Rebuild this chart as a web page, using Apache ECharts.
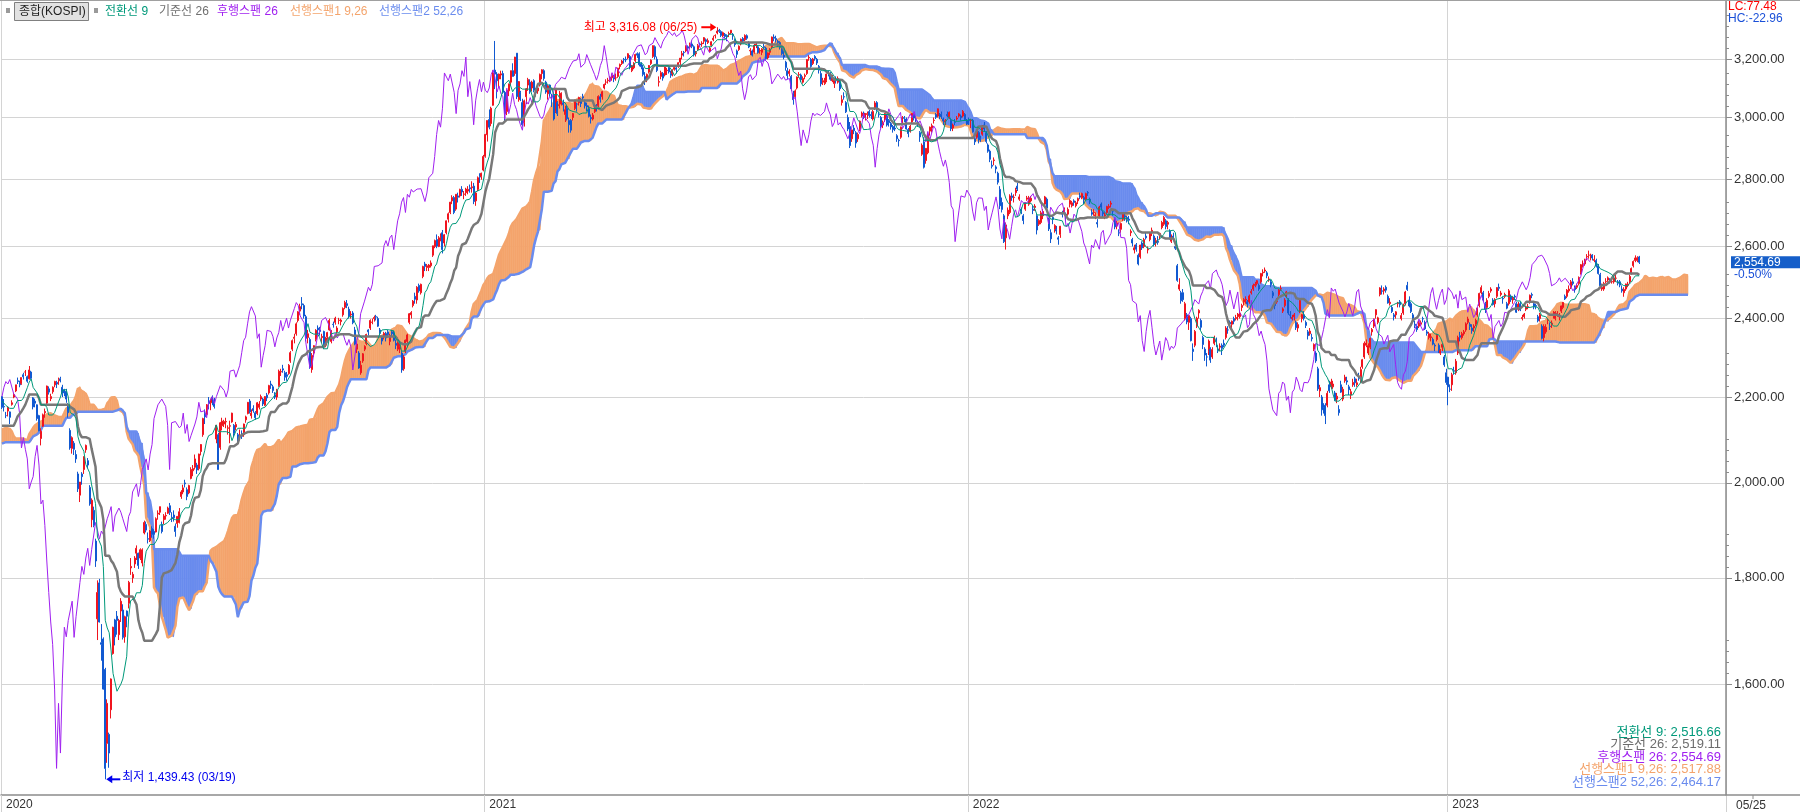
<!DOCTYPE html>
<html><head><meta charset="utf-8">
<script src="https://cdn.jsdelivr.net/npm/echarts@6/dist/echarts.min.js"></script>
<style>html,body{margin:0;padding:0;background:#fff;}#c{width:1800px;height:812px;}</style>
</head><body><div id="c"></div>
<script>
// ---- DATA: daily KOSPI candles [open, high, low, close] ----
// warm-up (2019-09-02 .. 2019-12-30) used only for indicator windows
const k2019 = [
[1965,1973,1960,1969],[1968,1972,1957,1965],[1970,1990,1967,1988],[2000,2006,1996,2004],[2007,2016,2004,2010],[2012,2022,2008,2019],[2024,2035,2020,2032],[2040,2052,2036,2049],[2055,2066,2048,2062],[2058,2066,2054,2062],[2066,2073,2060,2070],[2075,2083,2070,2080],[2082,2094,2079,2091],[2093,2098,2085,2091],[2096,2103,2090,2101],[2090,2092,2070,2074],[2078,2082,2063,2068],[2060,2062,2046,2050],[2055,2066,2050,2063],
[2068,2075,2058,2063],[2052,2055,2029,2031],[2025,2030,2015,2021],[2027,2032,2016,2020],[2024,2049,2022,2047],[2034,2036,2015,2020],[2035,2047,2032,2044],[2056,2070,2053,2067],[2064,2072,2059,2068],[2075,2084,2071,2081],[2080,2085,2072,2077],[2072,2076,2058,2061],[2063,2072,2060,2069],[2073,2088,2070,2086],[2080,2086,2075,2082],[2085,2092,2080,2087],[2084,2088,2078,2085],[2090,2096,2086,2093],[2089,2091,2077,2080],[2080,2086,2074,2080],[2082,2088,2076,2083],
[2086,2102,2084,2100],[2113,2131,2110,2130],[2136,2144,2130,2142],[2143,2148,2137,2144],[2140,2148,2136,2144],[2140,2146,2132,2137],[2136,2138,2120,2124],[2128,2142,2125,2140],[2135,2138,2118,2122],[2128,2141,2124,2139],[2148,2164,2145,2162],[2163,2170,2155,2160],[2160,2164,2148,2152],[2145,2148,2123,2126],[2118,2120,2090,2096],[2100,2110,2093,2101],[2112,2126,2108,2123],[2124,2130,2116,2121],[2120,2126,2114,2122],[2125,2130,2118,2121],[2115,2118,2086,2087],
[2087,2096,2080,2092],[2084,2088,2064,2068],[2055,2070,2052,2068],[2075,2080,2058,2060],[2068,2084,2065,2081],[2088,2094,2082,2090],[2090,2100,2086,2098],[2100,2108,2096,2105],[2110,2112,2100,2106],[2140,2170,2138,2170],[2165,2175,2160,2168],[2175,2197,2172,2195],[2200,2206,2190,2196],[2198,2204,2190,2196],[2200,2208,2196,2204],[2206,2210,2198,2203],[2200,2203,2188,2190],[2192,2200,2186,2197],[2202,2210,2198,2205],[2204,2206,2192,2198]
];
const k2020 = [
[2201,2202,2171,2175],[2177,2195,2165,2176],[2155,2164,2149,2155],[2166,2177,2153,2175],[2164,2165,2135,2151],[2182,2192,2179,2186],[2200,2210,2197,2206],[2215,2230,2212,2230],[2240,2248,2232,2238],[2236,2240,2224,2230],[2233,2248,2230,2248],[2255,2260,2243,2250],[2262,2267,2252,2262],[2250,2253,2235,2239],[2245,2277,2243,2267],[2262,2265,2243,2246],[2198,2200,2170,2176],[2190,2196,2175,2185],[2181,2182,2143,2148],[2155,2157,2118,2119],
[2101,2125,2085,2118],[2130,2160,2128,2157],[2162,2172,2150,2165],[2185,2228,2183,2227],[2220,2226,2206,2212],[2196,2208,2190,2201],[2213,2226,2208,2224],[2230,2240,2224,2238],[2236,2240,2222,2232],[2240,2248,2230,2243],[2245,2250,2236,2242],[2224,2230,2200,2208],[2218,2220,2202,2210],[2214,2220,2186,2195],[2180,2185,2150,2162],[2120,2125,2075,2079],[2078,2106,2066,2103],[2090,2095,2063,2076],[2064,2074,2045,2054],[2020,2025,1980,1987],
[1973,2002,1958,2002],[2020,2024,1996,2014],[2030,2060,2020,2059],[2075,2087,2068,2085],[2050,2056,2032,2040],[1990,1995,1950,1954],[1920,1966,1904,1962],[1940,1948,1904,1908],[1875,1880,1822,1834],[1720,1795,1680,1771],[1790,1798,1713,1714],[1675,1710,1642,1672],[1682,1685,1590,1591],[1626,1629,1439.43,1457],[1498,1573,1466,1566],[1513,1516,1458,1482],[1555,1610,1540,1609],[1655,1705,1653,1704],[1718,1720,1670,1686],[1725,1735,1690,1717],[1690,1720,1680,1717],[1735,1760,1714,1754],
[1737,1748,1681,1685],[1686,1726,1675,1724],[1735,1736,1704,1725],[1750,1794,1740,1791],[1820,1840,1806,1823],[1800,1812,1790,1807],[1828,1844,1820,1840],[1850,1866,1836,1860],[1850,1851,1818,1825],[1840,1860,1836,1857],[1830,1860,1823,1857],[1892,1918,1889,1914],[1910,1916,1893,1898],[1880,1893,1870,1879],[1876,1898,1873,1896],[1901,1906,1882,1889],[1895,1900,1880,1889],[1894,1925,1893,1922],[1932,1940,1920,1934],[1936,1948,1930,1948],
[1910,1916,1891,1895],[1920,1932,1910,1928],[1928,1936,1920,1929],[1934,1948,1932,1945],[1950,1956,1930,1936],[1925,1936,1915,1922],[1930,1940,1916,1924],[1906,1912,1884,1895],[1912,1928,1903,1927],[1914,1945,1912,1937],[1970,1984,1965,1980],[1980,1996,1975,1989],[2000,2007,1990,1998],[1985,1990,1962,1970],[1978,1996,1975,1994],[2010,2035,2008,2030],[2027,2040,2015,2032],[2035,2064,2030,2054],[2040,2045,2020,2029],
[2032,2066,2028,2065],[2071,2088,2062,2087],[2110,2150,2105,2148],[2160,2170,2135,2152],[2158,2183,2155,2181],[2190,2200,2170,2184],[2186,2196,2168,2195],[2200,2204,2180,2195],[2190,2198,2172,2177],[2100,2130,2090,2132],[2110,2114,2030,2030],[2080,2140,2075,2138],[2131,2150,2120,2142],[2135,2145,2128,2141],[2140,2150,2125,2141],[2125,2132,2110,2126],[2130,2143,2090,2131],[2140,2162,2138,2161],[2132,2135,2105,2113],[2128,2140,2120,2134],[2110,2114,2088,2094],[2105,2122,2098,2108],
[2110,2120,2100,2106],[2110,2136,2105,2135],[2145,2155,2138,2152],[2160,2188,2158,2187],[2190,2195,2160,2164],[2155,2170,2148,2161],[2172,2180,2162,2167],[2162,2166,2145,2150],[2160,2188,2156,2186],[2175,2190,2170,2183],[2195,2206,2190,2201],[2195,2198,2178,2183],[2180,2202,2178,2201],[2205,2210,2190,2198],[2210,2230,2206,2228],[2232,2240,2220,2229],[2225,2230,2210,2216],[2205,2212,2195,2200],[2200,2220,2193,2217],[2228,2268,2225,2264],[2262,2270,2252,2263],[2270,2280,2260,2267],[2260,2265,2240,2249],
[2255,2262,2240,2251],[2258,2282,2255,2279],[2290,2315,2285,2311],[2320,2345,2315,2342],[2348,2360,2335,2351],[2360,2390,2355,2386],[2395,2420,2390,2418],[2420,2440,2410,2432],[2440,2458,2425,2437],[2435,2440,2400,2407],[2405,2410,2340,2348],[2350,2370,2335,2360],[2345,2350,2270,2274],[2268,2310,2260,2304],[2310,2330,2300,2329],[2345,2372,2340,2369],[2375,2382,2358,2370],[2370,2378,2355,2366],[2350,2360,2335,2353],[2366,2368,2320,2326],
[2330,2352,2325,2349],[2352,2365,2345,2363],[2370,2400,2368,2395],[2340,2370,2335,2368],[2385,2392,2376,2384],[2390,2405,2384,2401],[2365,2380,2360,2375],[2395,2402,2385,2396],[2392,2400,2382,2396],[2410,2430,2405,2427],[2430,2448,2425,2443],[2440,2450,2428,2435],[2425,2432,2400,2407],[2410,2420,2400,2412],[2415,2420,2385,2389],[2370,2378,2330,2333],[2320,2340,2310,2333],[2310,2315,2270,2272],[2260,2290,2255,2279],[2290,2310,2285,2308],[2320,2330,2315,2327],
[2335,2360,2330,2358],[2370,2372,2355,2365],[2375,2398,2370,2395],[2390,2400,2385,2391],[2400,2408,2392,2403],[2405,2410,2395,2404],[2400,2405,2378,2380],[2370,2375,2355,2361],[2350,2355,2332,2341],[2355,2365,2345,2361],[2360,2365,2340,2349],[2365,2370,2350,2358],[2340,2360,2330,2355],[2365,2370,2352,2360],[2362,2368,2340,2343],[2335,2345,2320,2330],[2320,2350,2315,2345],[2320,2335,2310,2326],[2310,2315,2260,2267],
[2270,2305,2265,2300],[2315,2345,2310,2343],[2340,2360,2325,2357],[2390,2415,2385,2413],[2410,2420,2400,2416],[2435,2450,2430,2447],[2460,2470,2440,2452],[2450,2488,2440,2485],[2490,2495,2470,2475],[2470,2495,2465,2493],[2515,2545,2510,2543],[2550,2556,2530,2543],[2540,2550,2530,2545],[2540,2550,2530,2547],[2545,2560,2540,2553],[2575,2602,2570,2602],[2600,2620,2595,2617],[2620,2635,2595,2601],[2600,2630,2598,2625],[2625,2638,2615,2633],[2640,2648,2580,2591],
[2610,2636,2600,2634],[2640,2676,2635,2675],[2680,2700,2670,2696],[2700,2732,2695,2731],[2735,2752,2725,2745],[2745,2750,2695,2700],[2710,2755,2705,2755],[2750,2760,2730,2746],[2750,2772,2745,2770],[2770,2780,2750,2762],[2755,2765,2740,2756],[2760,2775,2750,2771],[2765,2780,2755,2770],[2775,2785,2760,2772],[2775,2795,2760,2778],[2780,2790,2725,2733],[2735,2762,2720,2759],[2770,2810,2765,2806],[2810,2820,2790,2808],[2810,2822,2800,2820],[2830,2878,2826,2873]
];
const k2021 = [
[2874,2946,2869,2944],[2943,2990,2921,2990],[2993,3027,2961,2968],[2980,3036,2971,3031],[3041,3161,3040,3152],[3162,3266,3096,3148],[3148,3155,3064,3125],[3131,3150,3100,3148],[3145,3160,3130,3149],[3150,3160,3080,3085],[3085,3090,2988,3013],[3020,3092,3008,3092],[3090,3115,3072,3114],[3120,3160,3110,3160],[3160,3186,3140,3140],[3150,3209,3142,3208],[3222,3222,3062,3070],[3060,3124,3053,3122],[3085,3090,3055,3069],[3050,3063,2970,2976],
[2983,3060,2970,3056],[3070,3100,3045,3097],[3110,3135,3090,3129],[3120,3130,3080,3087],[3100,3125,3088,3120],[3125,3130,3085,3092],[3095,3100,3070,3084],[3090,3105,3080,3100],[3110,3150,3105,3147],[3150,3165,3130,3163],[3160,3165,3125,3133],[3120,3125,3080,3086],[3080,3112,3060,3107],[3110,3112,3070,3080],[3070,3080,3035,3070],[3075,3080,2990,2995],[3020,3100,3015,3099],[3050,3055,3005,3013],
[3040,3090,3030,3043],[3045,3085,3040,3082],[3050,3060,3020,3043],[3010,3040,2985,3026],[3030,3040,2990,2996],[2990,3000,2950,2976],[2990,2995,2950,2958],[3000,3015,2990,3013],[3030,3060,3025,3054],[3045,3050,3020,3045],[3050,3070,3040,3067],[3060,3065,3035,3047],[3070,3080,3055,3066],[3050,3060,3030,3039],[3040,3050,3020,3035],[3030,3040,3000,3004],[3000,3010,2980,2996],[2995,3015,2990,3008],[3020,3045,3015,3041],[3040,3045,3020,3036],[3040,3075,3035,3071],[3070,3080,3050,3061],
[3070,3090,3060,3087],[3100,3115,3095,3112],[3120,3130,3110,3120],[3125,3135,3115,3127],[3130,3140,3120,3137],[3135,3150,3125,3143],[3140,3145,3120,3131],[3135,3150,3125,3135],[3140,3170,3135,3169],[3175,3185,3165,3182],[3185,3198,3180,3194],[3200,3205,3185,3198],[3200,3210,3190,3198],[3205,3222,3200,3220],[3210,3215,3165,3172],[3160,3180,3155,3177],[3170,3190,3165,3186],[3195,3220,3190,3217],[3220,3225,3205,3215],[3220,3225,3175,3181],[3185,3190,3165,3174],[3170,3180,3140,3147],
[3140,3155,3110,3127],[3130,3150,3120,3147],[3155,3180,3150,3178],[3185,3200,3180,3197],[3210,3250,3205,3249],[3245,3250,3200,3209],[3200,3210,3155,3161],[3120,3140,3105,3122],[3140,3160,3130,3153],[3150,3155,3125,3134],[3145,3175,3140,3173],[3160,3170,3145,3162],[3170,3175,3150,3156],[3150,3160,3135,3144],[3150,3165,3140,3162],[3165,3180,3160,3171],[3170,3175,3150,3165],[3175,3190,3170,3188],[3190,3205,3180,3204],
[3215,3230,3200,3221],[3225,3230,3210,3224],[3230,3250,3225,3247],[3245,3250,3230,3240],[3245,3260,3240,3252],[3255,3265,3240,3247],[3245,3250,3210,3216],[3220,3230,3210,3224],[3235,3255,3230,3249],[3255,3260,3245,3252],[3255,3265,3245,3258],[3265,3280,3255,3278],[3270,3275,3250,3264],[3260,3275,3255,3267],[3230,3245,3225,3240],[3250,3265,3245,3263],[3270,3285,3265,3276],[3285,3290,3275,3286],[3295,3316.08,3290,3302],[3305,3310,3295,3301],[3300,3305,3280,3286],[3285,3300,3280,3296],
[3290,3295,3275,3282],[3285,3290,3265,3281],[3290,3300,3280,3293],[3295,3306,3290,3305],[3290,3295,3270,3285],[3270,3275,3245,3253],[3230,3235,3205,3218],[3235,3250,3230,3247],[3255,3275,3250,3272],[3275,3280,3260,3266],[3270,3290,3265,3286],[3285,3290,3270,3276],[3260,3265,3240,3244],[3230,3240,3215,3232],[3230,3235,3210,3215],[3225,3255,3220,3250],[3250,3260,3240,3254],[3245,3250,3220,3224],[3230,3240,3220,3232],[3225,3240,3215,3236],[3245,3255,3235,3243],[3240,3245,3200,3202],
[3205,3225,3200,3223],[3225,3240,3215,3237],[3245,3282,3240,3280],[3280,3290,3265,3276],[3275,3285,3260,3270],[3265,3270,3245,3260],[3260,3265,3235,3243],[3245,3250,3215,3220],[3215,3230,3200,3208],[3190,3195,3160,3171],[3160,3170,3130,3143],[3150,3165,3140,3158],[3140,3145,3090,3097],[3080,3090,3043,3060],[3070,3095,3060,3090],[3100,3140,3095,3138],[3145,3155,3135,3146],[3145,3150,3120,3128],[3120,3140,3115,3133],[3140,3150,3130,3144],[3150,3200,3145,3199],
[3205,3215,3195,3207],[3200,3205,3170,3175],[3185,3205,3180,3201],[3210,3215,3195,3203],[3200,3205,3180,3187],[3175,3180,3150,3162],[3150,3160,3105,3114],[3120,3135,3110,3125],[3115,3135,3110,3127],[3125,3150,3120,3148],[3155,3160,3140,3153],[3150,3155,3125,3130],[3125,3145,3120,3140],[3115,3135,3100,3127],[3130,3140,3115,3125],[3120,3140,3115,3133],[3120,3125,3090,3097],[3050,3075,3040,3060],[3070,3085,3060,3069],
[3050,3055,3015,3019],[3000,3010,2955,2962],[2970,2985,2900,2908],[2930,2960,2920,2959],[2965,2975,2945,2956],[2950,2955,2901,2916],[2930,2950,2920,2944],[2960,2990,2955,2988],[3005,3020,3000,3015],[3015,3020,2995,3006],[3000,3015,2990,3013],[3010,3020,2995,3013],[3020,3025,3000,3007],[3010,3020,2995,3006],[2995,3025,2990,3020],[3030,3055,3025,3049],[3050,3055,3020,3025],[3010,3020,3000,3009],[3000,3005,2965,2970],
[2975,2990,2965,2983],[2995,3015,2985,3013],[3005,3010,2970,2975],[2990,2995,2970,2983],[2980,2985,2960,2969],[2970,2975,2950,2960],[2965,2975,2955,2962],[2940,2945,2920,2930],[2925,2930,2905,2924],[2935,2970,2930,2968],[2985,3005,2980,2999],[3000,3005,2985,2997],[2995,3000,2960,2962],[2960,2965,2935,2947],[2955,2975,2950,2971],[2985,3015,2980,3013],[3010,3015,2990,2998],[2995,3005,2985,2994],[2985,2990,2970,2980],[2950,2955,2920,2936],[2880,2915,2875,2909],[2920,2935,2835,2839],
[2860,2900,2850,2899],[2885,2950,2880,2945],[2955,2970,2940,2968],[2965,2980,2950,2973],[2990,3000,2980,2991],[3010,3015,2995,3001],[3005,3030,3000,3029],[3010,3015,2995,3010],[3010,3020,2995,3002],[2995,3000,2975,2988],[2985,2995,2975,2989],[3010,3020,3000,3006],[3000,3020,2995,3017],[2990,2995,2955,2963],[2965,2980,2955,2975],[2985,2995,2975,2984],[2995,3005,2990,2998],[3005,3015,3000,3012],[3005,3010,2990,2999],[3005,3025,3000,3020],[3010,3015,2990,2993],[2990,2995,2975,2978]
];
const k2022 = [
[2990,3000,2975,2989],[2990,2995,2965,2990],[2990,2995,2950,2953],[2930,2935,2910,2920],[2935,2960,2930,2954],[2950,2955,2915,2926],[2930,2940,2920,2927],[2945,2975,2940,2972],[2975,2985,2955,2962],[2950,2955,2915,2921],[2910,2915,2885,2890],[2890,2895,2855,2864],[2845,2860,2835,2842],[2860,2870,2845,2862],[2840,2845,2820,2834],[2820,2825,2785,2792],[2770,2780,2710,2720],[2730,2745,2700,2709],[2690,2695,2610,2614],[2625,2670,2591,2663],
[2690,2715,2680,2707],[2700,2755,2695,2750],[2750,2760,2735,2745],[2745,2755,2730,2746],[2760,2775,2750,2768],[2780,2790,2765,2771],[2740,2755,2735,2747],[2710,2715,2695,2704],[2690,2695,2665,2676],[2710,2730,2705,2729],[2740,2750,2735,2744],[2725,2750,2720,2744],[2735,2750,2730,2743],[2710,2720,2695,2706],[2715,2725,2705,2719],[2690,2695,2635,2648],[2665,2680,2660,2676],[2670,2705,2665,2699],
[2690,2710,2680,2703],[2725,2750,2720,2747],[2740,2745,2705,2713],[2680,2685,2645,2651],[2640,2650,2610,2622],[2685,2690,2665,2680],[2650,2665,2640,2661],[2650,2660,2635,2645],[2625,2630,2605,2621],[2635,2660,2625,2659],[2700,2705,2685,2695],[2700,2715,2695,2708],[2695,2700,2675,2686],[2695,2715,2690,2709],[2725,2740,2715,2736],[2720,2735,2715,2729],[2735,2740,2720,2730],[2720,2735,2715,2729],[2735,2745,2725,2742],[2750,2760,2740,2746],[2745,2760,2740,2757],
[2745,2750,2725,2739],[2740,2760,2735,2757],[2760,2765,2750,2759],[2740,2745,2725,2735],[2700,2710,2690,2695],[2700,2710,2690,2700],[2690,2700,2680,2693],[2670,2680,2655,2666],[2690,2720,2685,2716],[2725,2730,2705,2716],[2700,2705,2685,2696],[2690,2700,2680,2693],[2700,2720,2695,2718],[2715,2725,2710,2718],[2725,2735,2715,2728],[2705,2710,2690,2704],[2680,2685,2650,2657],[2660,2675,2650,2668],[2640,2650,2630,2639],[2650,2670,2640,2667],[2680,2700,2675,2695],
[2690,2700,2675,2687],[2685,2690,2670,2680],[2680,2690,2665,2677],[2640,2650,2630,2644],[2620,2625,2600,2610],[2590,2605,2580,2596],[2605,2610,2585,2592],[2575,2580,2546,2550],[2570,2605,2565,2604],[2610,2615,2590,2596],[2600,2625,2595,2620],[2630,2640,2620,2625],[2590,2600,2580,2592],[2620,2640,2615,2639],[2640,2655,2630,2647],[2630,2635,2600,2606],[2610,2625,2600,2617],[2615,2630,2605,2612],[2630,2640,2620,2638],[2655,2675,2650,2670],[2665,2690,2660,2685],
[2675,2680,2650,2658],[2665,2675,2650,2670],[2645,2650,2620,2626],[2615,2635,2610,2626],[2630,2640,2615,2625],[2600,2610,2590,2595],[2545,2550,2500,2504],[2480,2510,2475,2492],[2470,2475,2440,2448],[2470,2480,2445,2451],[2400,2445,2395,2440],[2410,2415,2385,2391],[2390,2410,2370,2408],[2400,2405,2340,2342],[2320,2335,2290,2314],[2330,2370,2325,2366],[2380,2405,2375,2401],[2415,2425,2400,2422],[2395,2400,2370,2377],[2350,2355,2320,2332],
[2320,2325,2290,2305],[2300,2310,2276,2300],[2315,2345,2305,2341],[2320,2325,2285,2292],[2300,2325,2295,2319],[2335,2355,2330,2350],[2340,2350,2325,2340],[2320,2330,2310,2317],[2325,2335,2315,2328],[2330,2335,2305,2322],[2335,2345,2325,2330],[2350,2380,2345,2375],[2370,2380,2360,2370],[2390,2395,2375,2386],[2385,2395,2375,2393],[2400,2405,2385,2393],[2400,2410,2395,2403],[2405,2415,2395,2412],[2405,2420,2400,2415],[2430,2440,2420,2435],[2445,2455,2435,2451],
[2450,2460,2440,2452],[2445,2450,2430,2439],[2445,2465,2440,2461],[2470,2480,2465,2473],[2480,2495,2475,2490],[2490,2500,2485,2493],[2495,2505,2490,2503],[2490,2495,2475,2480],[2500,2525,2495,2523],[2525,2535,2515,2527],[2530,2540,2525,2533],[2525,2530,2510,2517],[2505,2515,2500,2508],[2500,2505,2485,2492],[2470,2475,2455,2462],[2440,2445,2425,2435],[2445,2455,2440,2447],[2465,2480,2460,2477],[2480,2490,2475,2481],[2420,2430,2415,2426],[2435,2455,2430,2450],[2460,2475,2455,2472],
[2450,2455,2410,2415],[2410,2420,2400,2409],[2400,2410,2395,2403],[2405,2415,2395,2410],[2390,2395,2370,2376],[2375,2390,2365,2384],[2420,2450,2415,2449],[2400,2410,2390,2411],[2410,2420,2395,2401],[2390,2395,2375,2382],[2365,2370,2345,2355],[2360,2375,2355,2367],[2350,2360,2340,2347],[2320,2335,2315,2332],[2310,2315,2285,2290],[2270,2275,2215,2220],[2215,2230,2200,2223],[2200,2205,2155,2169],[2175,2185,2160,2171],[2180,2185,2135,2155],
[2180,2215,2175,2209],[2230,2240,2210,2215],[2225,2245,2220,2237],[2225,2240,2220,2232],[2210,2215,2190,2192],[2195,2210,2185,2202],[2170,2180,2155,2162],[2230,2240,2210,2212],[2195,2225,2190,2219],[2240,2255,2235,2249],[2240,2250,2230,2237],[2225,2230,2205,2218],[2205,2220,2195,2213],[2230,2245,2225,2236],[2245,2250,2225,2235],[2230,2245,2225,2235],[2250,2260,2240,2246],[2240,2275,2235,2268],[2275,2295,2270,2293],
[2300,2340,2295,2335],[2330,2345,2325,2336],[2310,2335,2305,2329],[2325,2350,2320,2348],[2365,2375,2355,2371],[2380,2400,2375,2399],[2410,2425,2400,2424],[2390,2405,2385,2402],[2465,2485,2460,2483],[2475,2490,2465,2474],[2475,2485,2465,2480],[2485,2490,2470,2477],[2460,2465,2440,2442],[2440,2455,2435,2444],[2430,2435,2415,2419],[2410,2415,2395,2405],[2410,2420,2400,2418],[2440,2445,2430,2441],[2445,2450,2430,2437],[2400,2415,2395,2408],[2415,2440,2410,2433],[2440,2475,2435,2472],
[2490,2500,2475,2479],[2450,2460,2430,2434],[2440,2445,2415,2419],[2410,2415,2390,2393],[2385,2395,2375,2382],[2380,2385,2365,2371],[2380,2395,2375,2389],[2385,2395,2380,2389],[2400,2405,2390,2399],[2390,2395,2370,2373],[2365,2370,2355,2361],[2350,2365,2345,2360],[2350,2360,2340,2352],[2345,2350,2330,2333],[2330,2335,2315,2328],[2345,2360,2340,2356],[2330,2335,2310,2313],[2310,2320,2305,2317],[2325,2335,2315,2332],[2300,2305,2275,2280],[2260,2270,2230,2236]
];
const k2023 = [
[2249,2250,2180,2225],[2219,2231,2212,2219],[2230,2260,2215,2255],[2265,2275,2255,2264],[2260,2295,2255,2289],[2310,2355,2305,2350],[2355,2365,2340,2351],[2350,2365,2345,2360],[2360,2370,2355,2365],[2370,2390,2365,2386],[2390,2405,2385,2399],[2385,2390,2370,2379],[2375,2385,2360,2368],[2375,2385,2365,2380],[2385,2400,2380,2395],[2410,2430,2405,2428],[2435,2470,2430,2468],[2470,2490,2465,2484],[2470,2475,2445,2450],[2440,2445,2415,2425],
[2430,2455,2425,2449],[2460,2475,2455,2468],[2475,2485,2470,2480],[2450,2455,2435,2438],[2440,2455,2430,2451],[2460,2485,2455,2484],[2485,2495,2475,2482],[2465,2475,2460,2469],[2455,2460,2440,2453],[2460,2470,2455,2465],[2440,2445,2425,2428],[2440,2480,2435,2475],[2460,2465,2445,2451],[2450,2460,2440,2455],[2460,2465,2450,2458],[2440,2445,2415,2417],[2425,2445,2420,2439],[2440,2445,2420,2423],[2400,2410,2395,2403],[2405,2415,2400,2412],
[2425,2435,2420,2432],[2430,2440,2425,2432],[2445,2465,2440,2463],[2465,2470,2455,2463],[2440,2445,2425,2431],[2435,2440,2425,2433],[2405,2410,2390,2394],[2400,2415,2392,2411],[2380,2385,2345,2348],[2350,2385,2340.34,2379],[2365,2385,2360,2377],[2395,2400,2385,2395],[2380,2390,2370,2379],[2385,2395,2375,2388],[2405,2420,2400,2417],[2400,2420,2395,2416],[2410,2420,2405,2414],[2405,2415,2395,2409],[2420,2435,2415,2434],[2430,2445,2425,2443],[2460,2465,2450,2453],[2460,2480,2455,2477],
[2475,2490,2470,2480],[2485,2505,2480,2500],[2500,2510,2490,2495],[2485,2490,2470,2478],[2485,2495,2480,2490],[2495,2515,2490,2512],[2525,2550,2520,2548],[2550,2560,2540,2550],[2550,2565,2545,2561],[2570,2578,2560,2571],[2575,2588,2565,2575],[2570,2579.34,2560,2575],[2575,2578,2560,2567],[2560,2575,2555,2563],[2560,2565,2540,2544],[2545,2550,2520,2523],[2520,2525,2485,2489],[2480,2495,2475,2485],[2480,2500,2475,2495],[2500,2510,2495,2501],
[2505,2515,2500,2511],[2505,2510,2495,2500],[2500,2510,2495,2501],[2500,2515,2495,2510],[2510,2520,2500,2510],[2500,2505,2490,2496],[2500,2505,2485,2491],[2480,2490,2470,2475],[2470,2485,2458.88,2479],[2480,2495,2475,2494],[2490,2500,2485,2494],[2500,2520,2495,2515],[2525,2540,2520,2537],[2545,2560,2540,2557],[2560,2574.44,2555,2567],[2560,2572,2555,2567.51],[2570,2573,2550,2554.69]
];
const yearLabels = ['2020', '2021', '2022', '2023'];
const yearStartIdx = [0, 248, 496, 742];
const yTickLabels = [1600, 1800, 2000, 2200, 2400, 2600, 2800, 3000, 3200];
const highLabel = '최고 3,316.08 (06/25)';
const lowLabel = '최저 1,439.43 (03/19)';
const lastDateLabel = '05/25';
const lcText = 'LC:77.48', hcText = 'HC:-22.96';
const TENKAN = 9, KIJUN = 26, SPANB = 52, SHIFT = 25;

// ---- build ----
const FONT = "'Liberation Sans','Noto Sans CJK KR',sans-serif";
const C_UP = '#f0141e', C_DN = '#1159d1';
const C_TEN = '#00997a', C_KIJ = '#787878', C_LAG = '#a020f0', C_S1 = '#f4a46c', C_S2 = '#6a8cee';
const all = k2019.concat(k2020, k2021, k2022, k2023);
const WARM = k2019.length;
const NSHOW = all.length - WARM;
const NCAT = 885;
const YMIN = 1414.6, YMAX = 3417.8;

function midRange(p, i) {
  if (i - p + 1 < 0) return null;
  let hi = -Infinity, lo = Infinity;
  for (let j = i - p + 1; j <= i; j++) { hi = Math.max(hi, all[j][1]); lo = Math.min(lo, all[j][2]); }
  return (hi + lo) / 2;
}
const tenF = all.map((_, i) => midRange(TENKAN, i));
const kijF = all.map((_, i) => midRange(KIJUN, i));
const spbF = all.map((_, i) => midRange(SPANB, i));

const cats = [], candle = [], ten = [], kij = [], lag = [], s1 = [], s2 = [];
for (let d = 0; d < NCAT; d++) {
  cats.push(String(d));
  const f = d + WARM;
  if (d < NSHOW) {
    const r = all[f];
    candle.push([r[0], r[3], r[2], r[1]]);
    ten.push(tenF[f]); kij.push(kijF[f]);
  } else { candle.push('-'); ten.push('-'); kij.push('-'); }
  lag.push(f + SHIFT < all.length ? all[f + SHIFT][3] : '-');
  const src = f - SHIFT;
  if (src >= 0 && src < all.length && tenF[src] != null && kijF[src] != null && spbF[src] != null) {
    s1.push((tenF[src] + kijF[src]) / 2); s2.push(spbF[src]);
  } else { s1.push('-'); s2.push('-'); }
}
const cloud = [];
for (let d = 0; d < NCAT - 1; d++) {
  if (typeof s1[d] === 'number' && typeof s1[d + 1] === 'number') cloud.push([d, s1[d], s2[d], s1[d + 1], s2[d + 1]]);
}
function poly(pts, c) { return { type: 'polygon', shape: { points: pts }, style: { fill: c, stroke: c, lineWidth: 0.6 } }; }
function renderCloud(params, api) {
  const d = api.value(0);
  const a1 = api.coord([d, api.value(1)]), a2 = api.coord([d, api.value(2)]);
  const b1 = api.coord([d + 1, api.value(3)]), b2 = api.coord([d + 1, api.value(4)]);
  const da = a2[1] - a1[1], db = b2[1] - b1[1];
  const col = v => (v >= 0 ? C_S1 : C_S2);
  if (da * db < 0) {
    const t = da / (da - db);
    const P = [a1[0] + t * (b1[0] - a1[0]), a1[1] + t * (b1[1] - a1[1])];
    return { type: 'group', children: [poly([a1, P, a2], col(da)), poly([P, b1, b2], col(db))] };
  }
  return { type: 'group', children: [poly([a1, b1, b2, a2], col(da + db))] };
}
const pxPerLn = 795 / Math.log(YMAX / YMIN);
const minorTicks = [];
yTickLabels.forEach(m => { for (let k = 1; k <= 4; k++) minorTicks.push(m * Math.exp(k * 11 / pxPerLn)); });
function comma(n) { return String(n).replace(/\B(?=(\d{3})+(?!\d))/g, ','); }
function fmt2(v) {
  const t = Math.floor(v * 100 + 1e-6);
  const ip = Math.floor(t / 100), fp = t % 100;
  return comma(ip) + '.' + (fp < 10 ? '0' : '') + fp;
}
const isYear = (i) => yearStartIdx.indexOf(i) >= 0;

const chart = echarts.init(document.getElementById('c'), null, { renderer: 'canvas' });
const lineBase = { type: 'line', showSymbol: false, symbol: 'none', animation: false, connectNulls: false, silent: true };
chart.setOption({
  animation: false,
  backgroundColor: '#ffffff',
  grid: { left: 1, top: 0, width: 1725, height: 795, containLabel: false },
  xAxis: {
    type: 'category', data: cats, boundaryGap: true,
    axisLine: { show: true, lineStyle: { color: '#8c8c8c', width: 1.5 } },
    axisTick: { show: true, interval: isYear, length: 17, lineStyle: { color: '#d0d0d0' } },
    axisLabel: { interval: isYear, formatter: (v, i) => yearLabels[yearStartIdx.indexOf(i)] || '', align: 'left', margin: 4, padding: [0, 0, 0, 4], color: '#333', fontSize: 12, fontFamily: FONT },
    splitLine: { show: true, interval: isYear, lineStyle: { color: '#d4d4d4', width: 1 } }
  },
  yAxis: [{
    type: 'log', position: 'right', min: YMIN, max: YMAX, logBase: 10,
    axisLine: { show: true, lineStyle: { color: '#8c8c8c', width: 1.5 } },
    axisTick: { show: true, customValues: yTickLabels, length: 6, lineStyle: { color: '#8c8c8c' } },
    axisLabel: { customValues: yTickLabels, formatter: v => comma(Math.round(v)) + '.00', margin: 8, color: '#333', fontSize: 13, fontFamily: FONT },
    splitLine: { show: true, lineStyle: { color: '#d4d4d4', width: 1 } }
  }, {
    type: 'log', position: 'right', min: YMIN, max: YMAX, logBase: 10,
    axisLine: { show: false },
    axisTick: { show: true, customValues: minorTicks, length: 3, lineStyle: { color: '#8c8c8c' } },
    axisLabel: { show: false }, splitLine: { show: false }
  }],
  series: [
    { type: 'custom', name: 'cloud', data: cloud, renderItem: renderCloud, encode: { x: 0, y: [1, 2] }, z: 1, silent: true, animation: false },
    Object.assign({}, lineBase, { name: '선행스팬1', data: s1, z: 2, lineStyle: { color: C_S1, width: 2.5 } }),
    Object.assign({}, lineBase, { name: '선행스팬2', data: s2, z: 2, lineStyle: { color: C_S2, width: 2.5 } }),
    { type: 'candlestick', name: '종합(KOSPI)', data: candle, large: false, barWidth: 1.5, z: 3, silent: true, animation: false,
      itemStyle: { color: C_UP, color0: C_DN, borderColor: C_UP, borderColor0: C_DN, borderWidth: 1 } },
    Object.assign({}, lineBase, { name: '후행스팬', data: lag, z: 4, lineStyle: { color: C_LAG, width: 1 } }),
    Object.assign({}, lineBase, { name: '기준선', data: kij, z: 4, lineStyle: { color: C_KIJ, width: 2.5 } }),
    Object.assign({}, lineBase, { name: '전환선', data: ten, z: 4, lineStyle: { color: C_TEN, width: 1 } })
  ]
});

// ---- annotations & texts (positions from the chart's own scales) ----
let peakI = 0, lowI = 0;
for (let d = 0; d < NSHOW; d++) {
  if (all[d + WARM][1] > all[peakI + WARM][1]) peakI = d;
  if (all[d + WARM][2] < all[lowI + WARM][2]) lowI = d;
}
const toPx = (i, v) => chart.convertToPixel({ xAxisIndex: 0, yAxisIndex: 0 }, [i, v]);
const pk = toPx(peakI, all[peakI + WARM][1]);
const lw = toPx(lowI, all[lowI + WARM][2]);
const lastClose = all[all.length - 1][3], prevClose = all[all.length - 2][3];
const lastPx = toPx(NSHOW - 1, lastClose);
const chg = (lastClose / prevClose - 1) * 100;
const lastIdx = NSHOW - 1;
const spanEnd = s1.length - 1 - [...s1].reverse().findIndex(v => typeof v === 'number');
function txt(x, y, text, fill, size, align, extra) {
  return Object.assign({ type: 'text', x: x, y: y, z: 100, style: { text: text, fill: fill, font: size + 'px ' + FONT, align: align || 'left', textAlign: align || 'left', verticalAlign: 'middle', textVerticalAlign: 'middle' } }, extra || {});
}
const legendRows = [
  ['전환선 9: ' + fmt2(ten[lastIdx]), C_TEN],
  ['기준선 26: ' + fmt2(kij[lastIdx]), '#6c6c6c'],
  ['후행스팬 26: ' + fmt2(lastClose), C_LAG],
  ['선행스팬1 9,26: ' + fmt2(s1[spanEnd]), C_S1],
  ['선행스팬2 52,26: ' + fmt2(s2[spanEnd]), C_S2]
];
const gfx = [
  // frame lines
  { type: 'line', shape: { x1: 0, y1: 0.5, x2: 1800, y2: 0.5 }, style: { stroke: '#a0a0a0', lineWidth: 1 }, z: 50 },
  { type: 'line', shape: { x1: 1726, y1: 795, x2: 1800, y2: 795 }, style: { stroke: '#8c8c8c', lineWidth: 1.5 }, z: 50 },
  { type: 'line', shape: { x1: 1753, y1: 795, x2: 1753, y2: 799 }, style: { stroke: '#8c8c8c', lineWidth: 1 }, z: 50 },
  txt(1736, 806, lastDateLabel, '#333', 12),
  // top-left legend
  { type: 'rect', shape: { x: 6, y: 8, width: 4, height: 5 }, style: { fill: '#9a9a9a' }, z: 100 },
  { type: 'rect', shape: { x: 14.5, y: 2.5, width: 74, height: 18 }, style: { fill: '#e2e2e2', stroke: '#808080', lineWidth: 1 }, z: 100 },
  txt(19, 12, '종합(KOSPI)', '#1e1e1e', 12),
  { type: 'rect', shape: { x: 94, y: 8, width: 4, height: 5 }, style: { fill: '#9a9a9a' }, z: 100 },
  txt(105, 12, '전환선 9', C_TEN, 12),
  txt(159, 12, '기준선 26', '#707070', 12),
  txt(217, 12, '후행스팬 26', C_LAG, 12),
  txt(290, 12, '선행스팬1 9,26', C_S1, 12),
  txt(379, 12, '선행스팬2 52,26', C_S2, 12),
  // top-right
  txt(1728, 7, lcText, '#ff0000', 12),
  txt(1728, 19, hcText, '#1a50d8', 12),
  // last price box
  { type: 'rect', shape: { x: 1731, y: lastPx[1] - 6, width: 69, height: 12 }, style: { fill: '#155ec9' }, z: 100 },
  txt(1734, lastPx[1], fmt2(lastClose), '#ffffff', 12),
  txt(1734, lastPx[1] + 12, (chg < 0 ? '-' : '+') + Math.abs(chg).toFixed(2) + '%', '#1a50d8', 12),
  // high annotation
  txt(pk[0] - 20, pk[1], highLabel, '#ff0000', 12, 'right'),
  { type: 'line', shape: { x1: pk[0] - 16, y1: pk[1], x2: pk[0] - 6, y2: pk[1] }, style: { stroke: '#ff0000', lineWidth: 2 }, z: 100 },
  { type: 'polygon', shape: { points: [[pk[0] - 7, pk[1] - 4], [pk[0] - 1, pk[1]], [pk[0] - 7, pk[1] + 4]] }, style: { fill: '#ff0000' }, z: 100 },
  // low annotation
  { type: 'polygon', shape: { points: [[lw[0] + 7, lw[1] - 4], [lw[0] + 1, lw[1]], [lw[0] + 7, lw[1] + 4]] }, style: { fill: '#0000ee' }, z: 100 },
  { type: 'line', shape: { x1: lw[0] + 6, y1: lw[1], x2: lw[0] + 15, y2: lw[1] }, style: { stroke: '#0000ee', lineWidth: 2 }, z: 100 },
  txt(lw[0] + 17, lw[1] - 2, lowLabel, '#0000ee', 12)
];
legendRows.forEach((r, i) => gfx.push(txt(1721, 732 + i * 12.6, r[0], r[1], 13, 'right')));
const counts = [k2019.length, k2020.length, k2021.length, k2022.length, k2023.length].join('/');
if (counts !== '81/248/248/246/99') gfx.push(txt(600, 400, 'COUNT ' + counts, '#000', 20));
chart.setOption({ graphic: gfx });
</script></body></html>
